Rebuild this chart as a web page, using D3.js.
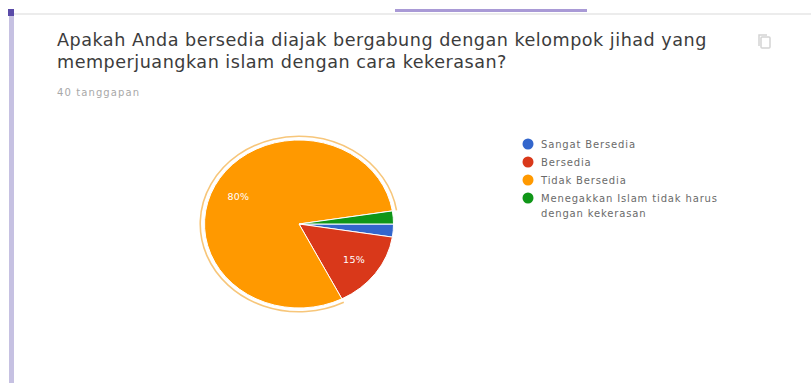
<!DOCTYPE html>
<html>
<head>
<meta charset="utf-8">
<script src="https://cdnjs.cloudflare.com/ajax/libs/d3/7.8.5/d3.min.js"></script>
<style>
html,body{margin:0;padding:0;background:#fff;overflow:hidden}
svg{display:block}
text{font-family:"DejaVu Sans",sans-serif}
.title{font-size:17.6px;fill:#3c3c3c;letter-spacing:.5px}
</style>
</head>
<body>
<svg id="chart" width="811" height="383"></svg>
<script>
// Survey answers and their share of the 40 responses
const categories = ["Sangat Bersedia", "Bersedia", "Tidak Bersedia", "Menegakkan Islam tidak harus dengan kekerasan"];
const shares = [2.5, 15, 80, 2.5];
const colors = ["#3366cc", "#d9381a", "#ff9900", "#109618"];
const legendLines = [["Sangat Bersedia"], ["Bersedia"], ["Tidak Bersedia"], ["Menegakkan Islam tidak harus", "dengan kekerasan"]];
const titleLines = ["Apakah Anda bersedia diajak bergabung dengan kelompok jihad yang", "memperjuangkan islam dengan cara kekerasan?"];
const responseNote = "40 tanggapan";
const labelFloor = 5; // slices below this share carry no label
const highlighted = 2;  // slice wearing the hover ring

const svg = d3.select("#chart");

// Page chrome: section rail, top rule and active tab
svg.append("rect").attr("x", 9).attr("y", 13).attr("width", 802).attr("height", 2).attr("fill", "#ececec");
svg.append("rect").attr("x", 395).attr("y", 9).attr("width", 192).attr("height", 3).attr("fill", "#a99ad6");
svg.append("rect").attr("x", 9).attr("y", 14).attr("width", 5).attr("height", 369).attr("fill", "#c6c1e2");
svg.append("rect").attr("x", 8).attr("y", 9).attr("width", 6).attr("height", 7).attr("fill", "#5a4ba8");

// Heading
svg.selectAll("text.title").data(titleLines).join("text")
  .attr("class", "title")
  .attr("x", 57)
  .attr("y", (d, i) => 46 + i * 22)
  .text(d => d);

svg.append("text").attr("x", 57).attr("y", 96)
  .attr("font-size", 10).attr("letter-spacing", 1.1).attr("fill", "#a8a8a8").text(responseNote);

// Copy icon
const icon = svg.append("g").attr("fill", "none").attr("stroke", "#d4d4d4").attr("stroke-width", 1.5);
icon.append("rect").attr("x", 761).attr("y", 37).attr("width", 9).attr("height", 11).attr("rx", 1).attr("fill", "#fff");
icon.append("path").attr("d", "M759 46V35h8");

// Pie, drawn on a unit circle and stretched to its ellipse
const pie = d3.pie().sort(null).startAngle(Math.PI / 2).endAngle(Math.PI * 2.5);
const arcs = pie(shares);
const sliceArc = d3.arc().innerRadius(0).outerRadius(1);
const labelArc = d3.arc().innerRadius(0.72).outerRadius(0.72);
const ringArc = d3.arc().innerRadius(1.045).outerRadius(1.045);

const cx = 299, cy = 224, rx = 94.5, ry = 84;
const pieG = svg.append("g").attr("transform", `translate(${cx},${cy}) scale(${rx},${ry})`);

pieG.selectAll("path.slice").data(arcs).join("path")
  .attr("class", "slice")
  .attr("d", sliceArc)
  .attr("fill", (d, i) => colors[i])
  .attr("stroke", "#fff")
  .attr("stroke-width", 1)
  .attr("vector-effect", "non-scaling-stroke");

pieG.append("path")
  .attr("d", ringArc(arcs[highlighted]))
  .attr("fill", "none")
  .attr("stroke", "#f7c67a")
  .attr("stroke-width", 1.6)
  .attr("vector-effect", "non-scaling-stroke");

// Percentage labels on the larger slices
svg.append("g").selectAll("text").data(arcs.filter(d => d.data >= labelFloor)).join("text")
  .attr("transform", d => {
    const [x, y] = labelArc.centroid(d);
    return `translate(${cx + x * rx},${cy + y * ry})`;
  })
  .attr("text-anchor", "middle")
  .attr("dy", "0.35em")
  .attr("font-size", 9.5)
  .attr("letter-spacing", 0.3)
  .attr("fill", "#fff")
  .text(d => d3.format(".0f")(d.data) + "%");

// Legend
const legendY = [144, 162, 180, 198];
const legend = svg.append("g").selectAll("g").data(categories).join("g")
  .attr("transform", (d, i) => `translate(528,${legendY[i]})`);
legend.append("circle").attr("r", 5.5).attr("fill", (d, i) => colors[i]);
legend.append("text")
  .attr("x", 13)
  .attr("font-size", 10)
  .attr("letter-spacing", 0.85)
  .attr("fill", "#6a6a6a")
  .selectAll("tspan").data((d, i) => legendLines[i]).join("tspan")
  .attr("x", 13)
  .attr("y", (d, i) => 3.5 + i * 15)
  .text(d => d);
</script>
</body>
</html>
